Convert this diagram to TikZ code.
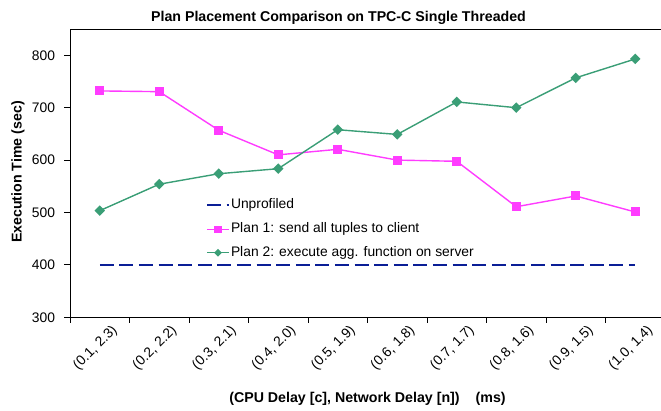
\documentclass[tikz,border=0pt]{standalone}
\usepackage{fontspec}
\setmainfont{Liberation Sans}
\usetikzlibrary{calc}
\definecolor{planonec}{RGB}{255,60,255}
\definecolor{plantwoc}{RGB}{58,158,118}
\definecolor{unprofc}{RGB}{10,30,150}
\begin{document}
\begin{tikzpicture}[x=1pt,y=1pt,
  every node/.style={inner sep=0pt, outer sep=0pt},
  lbl/.style={font=\fontsize{13.85}{16}\selectfont},
  ttl/.style={font=\fontsize{14.2}{16}\selectfont\bfseries},
  frameline/.style={draw=black, line width=0.9pt},
  tickline/.style={draw=black, line width=0.9pt},
  unprofline/.style={draw=unprofc, line width=2pt, dash pattern=on 14pt off 5.6pt},
  planoneline/.style={draw=planonec, line width=1.4pt, line join=round},
  plantwoline/.style={draw=plantwoc, line width=1.4pt, line join=round},
  sqmark/.style={rectangle, fill=planonec, minimum size=9pt},
  dmmark/.style={rectangle, rotate=45, fill=plantwoc, minimum size=7.4pt},
  sqmarksmall/.style={rectangle, fill=planonec, minimum size=7.5pt},
  dmmarksmall/.style={rectangle, rotate=45, fill=plantwoc, minimum size=5.5pt}]
\useasboundingbox (0,0) rectangle (661,410);
\clip (0,0) rectangle (661,410);

% chart title and axis titles
\node[ttl] (title) at (338.5,392.5) {Plan Placement Comparison on TPC-C Single Threaded};
\node[ttl, rotate=90] (ytitle) at (18,238) {Execution Time (sec)};
\node[ttl] (xtitle) at (367.5,11.5) {(CPU Delay [c], Network Delay [n])\hspace{16pt}(ms)};

% data area: x in categories, y in seconds above 300
\begin{scope}[shift={(70pt,92.7pt)}, x=59.5pt, y=0.524pt]
  \draw[frameline] (0,549.6) -- (0,0) -- (10.2,0);
  \draw[frameline] (0,549.6) -- (10.2,549.6);
  \foreach \v in {0,100,...,500} {
    \draw[tickline] (0,\v) -- ++(-6pt,0);
    \pgfmathtruncatemacro{\lab}{\v+300}
    \node[lbl, anchor=east, xshift=-15pt] (ylab\lab) at (0,\v) {\lab};
  }
  \foreach \k in {0,...,10} {
    \draw[tickline] (\k,0) -- ++(0,-5.5pt);
  }
  \foreach \t [count=\i] in {(0.1, 2.3),(0.2, 2.2),(0.3, 2.1),(0.4, 2.0),(0.5, 1.9),
                             (0.6, 1.8),(0.7, 1.7),(0.8, 1.6),(0.9, 1.5),(1.0, 1.4)} {
    \node[lbl, rotate=45, anchor=east, xshift=3pt, yshift=-18.7pt] (xlab\i) at (\i-0.5,0) {\t};
  }

  % series points
  \foreach \v [count=\i] in {732,730.6,657,610,620.6,600,597.7,511,531.5,501} {
    \coordinate (p\i) at (\i-0.5,\v-300);
  }
  \foreach \v [count=\i] in {503.5,554,574,583.6,658,649,711,700,757,793} {
    \coordinate (g\i) at (\i-0.5,\v-300);
  }
  \coordinate (u1) at (0.5,100);
  \coordinate (u10) at (9.5,100);
\end{scope}

% unprofiled baseline
\draw[unprofline] (u1) -- (u10);

% plan 1
\draw[planoneline] (p1) \foreach \i in {2,...,10} { -- (p\i) };
\foreach \i in {1,...,10} \node[sqmark] (pm\i) at (p\i) {};

% plan 2
\draw[plantwoline] (g1) \foreach \i in {2,...,10} { -- (g\i) };
\foreach \i in {1,...,10} \node[dmmark] (gm\i) at (g\i) {};

% legend
\coordinate (la1) at (207,205);   \coordinate (lb1) at (229,205);
\coordinate (la2) at (207,180.7); \coordinate (lb2) at (229,180.7);
\coordinate (la3) at (207,157.3); \coordinate (lb3) at (229,157.3);
\draw[unprofline] (la1) -- (lb1);
\draw[planoneline] (la2) -- (lb2);
\node[sqmarksmall] (lm2) at ($(la2)!0.5!(lb2)$) {};
\draw[plantwoline] (la3) -- (lb3);
\node[dmmarksmall] (lm3) at ($(la3)!0.5!(lb3)$) {};
\node[lbl, anchor=west] (leg1) at (231,205) {Unprofiled};
\node[lbl, anchor=west] (leg2) at (231,180.7) {Plan 1: send all tuples to client};
\node[lbl, anchor=west] (leg3) at (231,157.3) {Plan 2: execute agg. function on server};
\end{tikzpicture}
\end{document}
